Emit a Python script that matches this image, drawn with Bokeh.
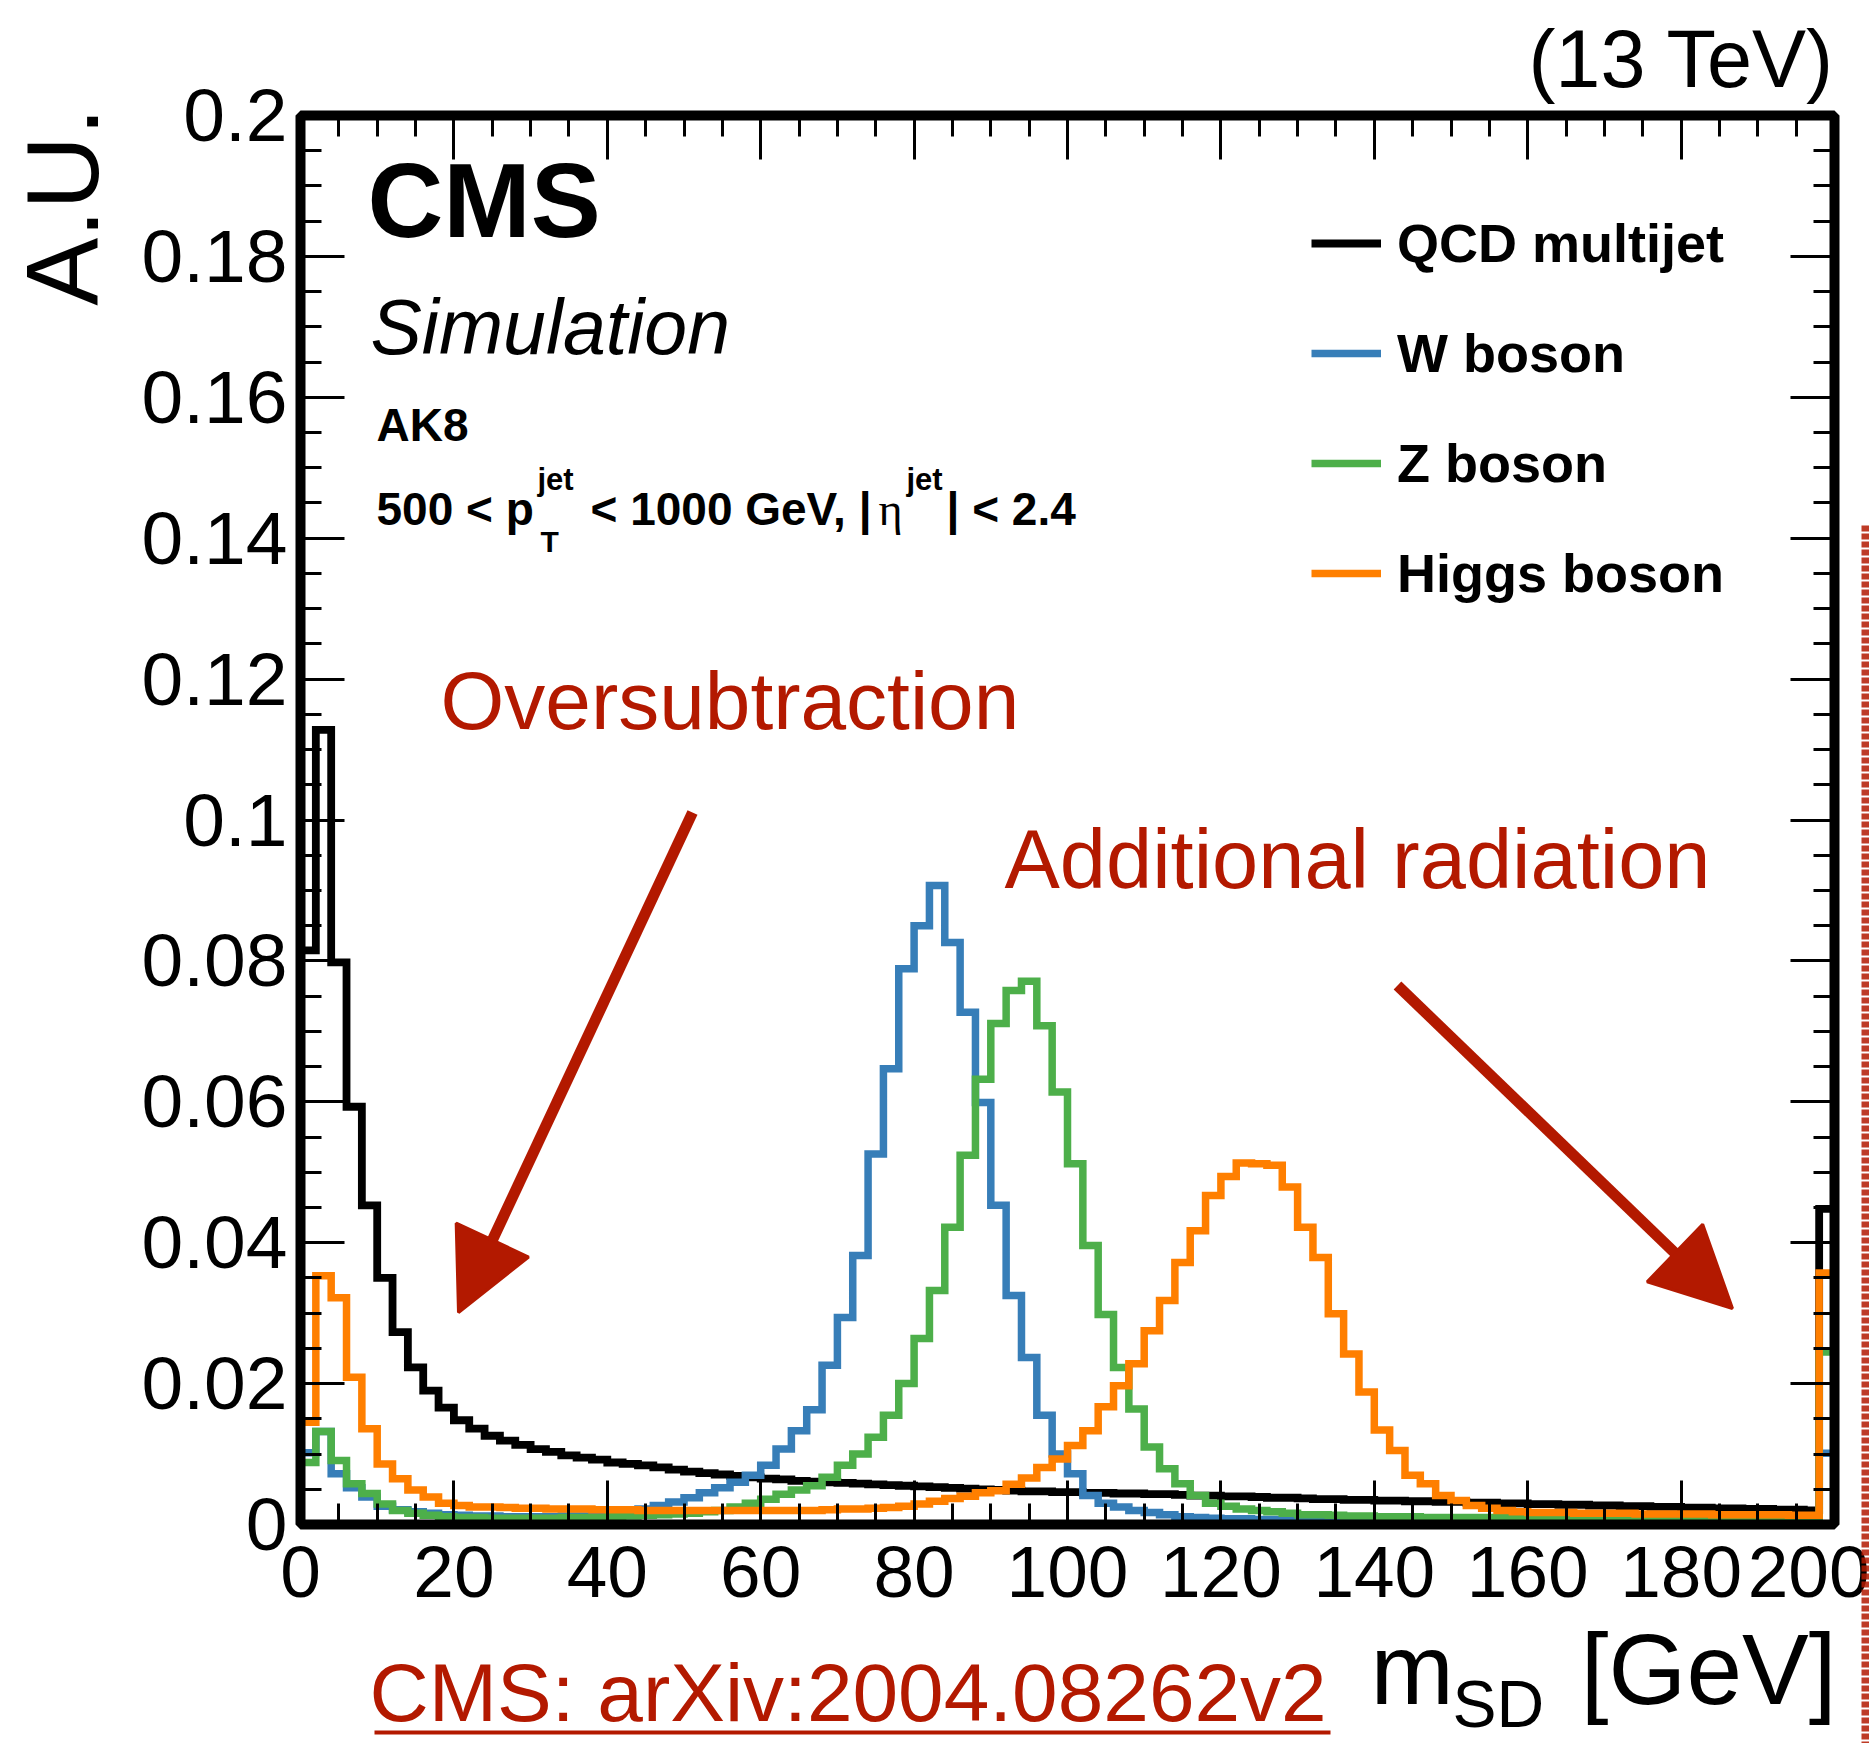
from math import pi
from bokeh.plotting import figure
from bokeh.models import (FixedTicker, LinearAxis, CustomJSTickFormatter, Label,
                          Legend, LegendItem, Arrow, NormalHead, Range1d, BoxAnnotation)
from bokeh.embed import file_html
from bokeh.resources import INLINE

# ---------------- data (2 GeV bins, 0-200 GeV, last bin includes overflow) -------------
bin_edges = list(range(0, 202, 2))

qcd = [0.0815, 0.1128, 0.0798, 0.0593, 0.0453, 0.0350, 0.0273, 0.0223, 0.0190, 0.0166,
       0.0148, 0.0136, 0.0126, 0.0119, 0.0113, 0.0107, 0.0103, 0.0098, 0.0095, 0.0092,
       0.0088, 0.0086, 0.0084, 0.0081, 0.0078, 0.0075, 0.0073, 0.0071, 0.0069, 0.0067,
       0.0065, 0.0064, 0.0062, 0.0061, 0.0060, 0.0059, 0.0058, 0.0057, 0.0056, 0.0055,
       0.0054, 0.0053, 0.0052, 0.0051, 0.0050, 0.0049, 0.0048, 0.0047, 0.0047, 0.0046,
       0.0046, 0.0045, 0.0045, 0.0044, 0.0044, 0.0043, 0.0043, 0.0042, 0.0041, 0.0041,
       0.0040, 0.0040, 0.0039, 0.0038, 0.0038, 0.0037, 0.0036, 0.0036, 0.0035, 0.0035,
       0.0034, 0.0034, 0.0033, 0.0033, 0.0032, 0.0032, 0.0031, 0.0031, 0.0030, 0.0030,
       0.0029, 0.0029, 0.0028, 0.0028, 0.0027, 0.0027, 0.0026, 0.0026, 0.0025, 0.0025,
       0.0024, 0.0024, 0.0023, 0.0023, 0.0022, 0.0022, 0.0021, 0.0021, 0.0020, 0.0448]

w_boson = [0.0102, 0.0132, 0.0072, 0.0052, 0.0039, 0.0026, 0.0021, 0.0018, 0.0016, 0.0014,
           0.0013, 0.0012, 0.0012, 0.0011, 0.0011, 0.0011, 0.0011, 0.0012, 0.0012, 0.0013,
           0.0015, 0.0018, 0.0022, 0.0027, 0.0032, 0.0038, 0.0045, 0.0052, 0.0060, 0.0070,
           0.0084, 0.0107, 0.0133, 0.0163, 0.0226, 0.0294, 0.0382, 0.0526, 0.0647, 0.0789,
           0.0850, 0.0907, 0.0826, 0.0727, 0.0599, 0.0453, 0.0325, 0.0237, 0.0155, 0.0100,
           0.0072, 0.0041, 0.0030, 0.0025, 0.0020, 0.0017, 0.0014, 0.0011, 0.0010, 0.0009,
           0.0008, 0.0008, 0.0007, 0.0007, 0.0007, 0.0006, 0.0006, 0.0006, 0.0006, 0.0005,
           0.0005, 0.0005, 0.0005, 0.0005, 0.0005, 0.0004, 0.0004, 0.0004, 0.0004, 0.0004,
           0.0004, 0.0004, 0.0004, 0.0003, 0.0003, 0.0003, 0.0003, 0.0003, 0.0003, 0.0003,
           0.0003, 0.0003, 0.0003, 0.0003, 0.0003, 0.0003, 0.0003, 0.0003, 0.0003, 0.0101]

z_boson = [0.0088, 0.0132, 0.0091, 0.0058, 0.0044, 0.0029, 0.0020, 0.0016, 0.0013, 0.0011,
           0.0010, 0.0010, 0.0009, 0.0009, 0.0009, 0.0009, 0.0009, 0.0010, 0.0010, 0.0010,
           0.0011, 0.0012, 0.0013, 0.0014, 0.0015, 0.0016, 0.0018, 0.0020, 0.0025, 0.0030,
           0.0036, 0.0043, 0.0049, 0.0055, 0.0067, 0.0084, 0.0100, 0.0124, 0.0155, 0.0200,
           0.0264, 0.0332, 0.0422, 0.0524, 0.0632, 0.0711, 0.0758, 0.0771, 0.0708, 0.0614,
           0.0512, 0.0396, 0.0298, 0.0223, 0.0164, 0.0110, 0.0079, 0.0058, 0.0041, 0.0030,
           0.0026, 0.0022, 0.0020, 0.0018, 0.0016, 0.0014, 0.0014, 0.0013, 0.0012, 0.0012,
           0.0011, 0.0011, 0.0011, 0.0010, 0.0010, 0.0010, 0.0010, 0.0010, 0.0010, 0.0009,
           0.0009, 0.0009, 0.0009, 0.0009, 0.0009, 0.0009, 0.0008, 0.0008, 0.0008, 0.0008,
           0.0008, 0.0008, 0.0008, 0.0008, 0.0008, 0.0007, 0.0007, 0.0007, 0.0007, 0.0245]

higgs = [0.0145, 0.0353, 0.0322, 0.0209, 0.0136, 0.0086, 0.0065, 0.0049, 0.0039, 0.0030,
         0.0027, 0.0025, 0.0025, 0.0024, 0.0023, 0.0023, 0.0022, 0.0022, 0.0022, 0.0021,
         0.0021, 0.0021, 0.0020, 0.0020, 0.0020, 0.0020, 0.0020, 0.0020, 0.0020, 0.0020,
         0.0020, 0.0020, 0.0020, 0.0020, 0.0021, 0.0022, 0.0022, 0.0023, 0.0024, 0.0026,
         0.0029, 0.0033, 0.0037, 0.0040, 0.0045, 0.0048, 0.0057, 0.0066, 0.0081, 0.0093,
         0.0112, 0.0133, 0.0167, 0.0197, 0.0228, 0.0275, 0.0318, 0.0372, 0.0417, 0.0467,
         0.0494, 0.0513, 0.0512, 0.0510, 0.0479, 0.0422, 0.0379, 0.0299, 0.0242, 0.0188,
         0.0134, 0.0105, 0.0070, 0.0058, 0.0041, 0.0034, 0.0027, 0.0023, 0.0020, 0.0018,
         0.0017, 0.0017, 0.0017, 0.0016, 0.0016, 0.0016, 0.0016, 0.0015, 0.0015, 0.0015,
         0.0015, 0.0015, 0.0014, 0.0014, 0.0014, 0.0014, 0.0014, 0.0013, 0.0013, 0.0357]

series_names = ["QCD multijet", "W boson", "Z boson", "Higgs boson"]
series_colors = ["#000000", "#377eb8", "#4daf4a", "#ff7f00"]

x_major = [0, 20, 40, 60, 80, 100, 120, 140, 160, 180, 200]
x_minor = list(range(0, 205, 5))
y_major = [0.0, 0.02, 0.04, 0.06, 0.08, 0.1, 0.12, 0.14, 0.16, 0.18, 0.2]
y_minor = [round(0.005 * i, 3) for i in range(41)]

X_LIM = (0, 200)
Y_LIM = (0.0, 0.2)

RED = "#b31900"
FONT = "Liberation Sans"

# ---------------- geometry: data frame of the axes inside the canvas ----------------
W, H = 1869, 1743
FL, FR, FT, FB = 300, 1834, 115, 1524   # pixel edges of the axes box


def dx(px):
    return X_LIM[0] + (px - FL) / (FR - FL) * (X_LIM[1] - X_LIM[0])


def dy(py):
    return Y_LIM[0] + (FB - py) / (FB - FT) * (Y_LIM[1] - Y_LIM[0])


p = figure(width=W, height=H, x_range=Range1d(dx(0), dx(W)), y_range=Range1d(dy(H), dy(0)),
           output_backend="svg", toolbar_location=None, tools="",
           x_axis_location=None, y_axis_location=None,
           min_border=0, min_border_left=0, min_border_right=0,
           min_border_top=0, min_border_bottom=0)
p.background_fill_color = "white"
p.border_fill_color = "white"
p.outline_line_color = None
for g in p.grid:
    g.visible = False
p.renderers = [r for r in p.renderers if r.__class__.__name__ != "Grid"]
p.center = [c for c in p.center if c.__class__.__name__ != "Grid"]

# ---------------- histograms ----------------
renderers = []
for vals, col in zip([qcd, w_boson, z_boson, higgs], series_colors):
    xs = [bin_edges[0]]
    ys = [0.0]
    for i, v in enumerate(vals):
        xs += [bin_edges[i], bin_edges[i + 1]]
        ys += [v, v]
    xs.append(bin_edges[-1])
    ys.append(0.0)
    r = p.line(xs, ys, line_color=col, line_width=7.8 if col == "#000000" else 7.5,
               line_join="miter")
    renderers.append(r)

# ---------------- axes (library axes at fixed positions) ----------------
bottom_ax = LinearAxis(fixed_location=Y_LIM[0])
left_ax = LinearAxis(fixed_location=X_LIM[0])
top_ax = LinearAxis(fixed_location=Y_LIM[1])
right_ax = LinearAxis(fixed_location=X_LIM[1])
p.add_layout(bottom_ax, "below")
p.add_layout(left_ax, "left")
p.add_layout(top_ax, "above")
p.add_layout(right_ax, "right")

for ax in [bottom_ax, top_ax]:
    ax.ticker = FixedTicker(ticks=x_major, minor_ticks=x_minor)
for ax in [left_ax, right_ax]:
    ax.ticker = FixedTicker(ticks=y_major, minor_ticks=y_minor)

for ax in [bottom_ax, left_ax, top_ax, right_ax]:
    ax.axis_line_color = None
    ax.major_tick_in = 44
    ax.major_tick_out = 0
    ax.minor_tick_in = 21
    ax.minor_tick_out = 0
    ax.major_tick_line_width = 3
    ax.minor_tick_line_width = 3
    ax.major_tick_line_color = "black"
    ax.minor_tick_line_color = "black"
    ax.major_label_text_font = FONT
    ax.major_label_text_color = "black"

for ax in [top_ax, right_ax]:
    ax.formatter = CustomJSTickFormatter(code="return '';")
    ax.major_label_text_font_size = "1px"
    ax.major_label_standoff = 0

bottom_ax.major_label_text_font_size = "73px"
bottom_ax.major_label_standoff = 22
left_ax.major_label_text_font_size = "75px"
left_ax.major_label_standoff = 13
left_ax.formatter = CustomJSTickFormatter(
    code="if (Math.abs(tick) < 1e-9) return '0'; var s = tick.toFixed(2); "
         "if (s.endsWith('0')) s = s.slice(0, -1); return s;")

# frame box
p.add_layout(BoxAnnotation(left=X_LIM[0], right=X_LIM[1], bottom=Y_LIM[0], top=Y_LIM[1],
                           fill_alpha=0, fill_color=None, line_color="black", line_width=10,
                           line_alpha=1.0))

# ---------------- legend ----------------
legend = Legend(items=[LegendItem(label=n, renderers=[r]) for n, r in zip(series_names, renderers)],
                location=(1311, 1115))
legend.label_text_font = FONT
legend.label_text_font_style = "bold"
legend.label_text_font_size = "54px"
legend.label_text_color = "black"
legend.glyph_width = 70
legend.glyph_height = 110
legend.label_height = 110
legend.label_standoff = 16
legend.spacing = 0
legend.padding = 0
legend.margin = 0
legend.border_line_color = None
legend.background_fill_alpha = 0
p.add_layout(legend)

# ---------------- texts ----------------
SHIFT = 0.38   # empirical baseline correction (fraction of font size)


def lab(px, py, text, size, style="normal", color="black", align="left",
        font=FONT, angle=0.0):
    if angle == 0.0:
        py = py - SHIFT * size
    else:
        px = px - SHIFT * size
    p.add_layout(Label(x=dx(px), y=dy(py), text=text, text_font=font,
                       text_font_size=f"{size}px", text_font_style=style,
                       text_color=color, text_align=align, text_baseline="alphabetic",
                       angle=angle))


lab(1834, 89, "(13 TeV)", 81, align="right")
lab(101, 107, "A.U.", 102, align="right", angle=pi / 2)
lab(367, 240, "CMS", 105, "bold")
lab(370, 356, "Simulation", 77, "italic")
lab(376, 442, "AK8", 46, "bold")
lab(376, 526, "500 < p", 46, "bold")
lab(537, 491, "jet", 31, "bold")
lab(540, 552, "T", 30, "bold")
lab(590, 526, "< 1000 GeV, |", 46, "bold")
lab(878, 526, "\u03b7", 46, "normal", font="Liberation Serif")
lab(906, 491, "jet", 31, "bold")
lab(946, 526, "| < 2.4", 46, "bold")

lab(1370, 1706, "m", 100)
lab(1452, 1729, "SD", 66)
lab(1836, 1706, "[GeV]", 100, align="right")

lab(440, 731, "Oversubtraction", 82, color=RED)
lab(1004, 891, "Additional radiation", 83, color=RED)
lab(369, 1723, "CMS: arXiv:2004.08262v2", 82, color=RED)
p.add_layout(Arrow(end=None, x_start=dx(374), y_start=dy(1732), x_end=dx(1330), y_end=dy(1732),
                   line_color=RED, line_width=4))

# hand-drawn style arrows
for (x0, y0, x1, y1) in [(692, 812, 458, 1312), (1397, 985, 1732, 1308)]:
    p.add_layout(Arrow(end=NormalHead(size=80, fill_color=RED, line_color=RED, line_width=3),
                       x_start=dx(x0), y_start=dy(y0), x_end=dx(x1), y_end=dy(y1),
                       line_color=RED, line_width=11))

# clipped red scribble at the right edge
p.add_layout(Arrow(end=None, x_start=dx(1865), y_start=dy(525), x_end=dx(1865), y_end=dy(1743),
                   line_color=RED, line_width=8, line_alpha=0.85, line_dash="6 2"))

open("out.html", "w").write(file_html(p, INLINE))
